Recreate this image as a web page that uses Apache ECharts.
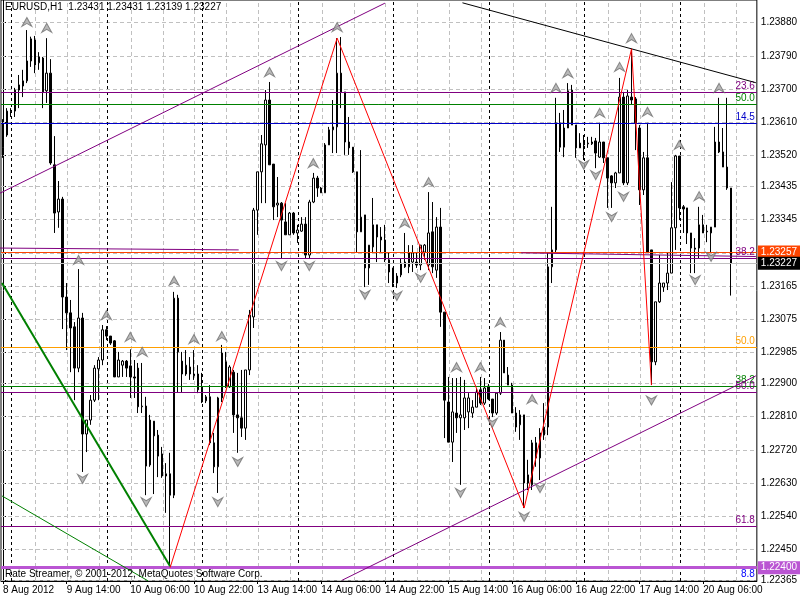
<!DOCTYPE html>
<html><head><meta charset="utf-8">
<script src="https://cdn.jsdelivr.net/npm/echarts@6/dist/echarts.min.js"></script>
<style>html,body{margin:0;padding:0;background:#fff}#c{width:800px;height:600px}</style>
</head><body><div id="c"></div>
<script>
// ---------- DATA ----------
const titleText = 'EURUSD,H1  1.23431 1.23431 1.23139 1.23227';
const footerText = 'Rate Streamer, \u00A9 2001-2012, MetaQuotes Software Corp.';
const xLabels = ['8 Aug 2012','9 Aug 14:00','10 Aug 06:00','10 Aug 22:00','13 Aug 14:00','14 Aug 06:00','14 Aug 22:00','15 Aug 14:00','16 Aug 06:00','16 Aug 22:00','17 Aug 14:00','20 Aug 06:00'];
const yLabelValues = [1.23880,1.23790,1.23700,1.23610,1.23520,1.23435,1.23345,1.23165,1.23075,1.22985,1.22900,1.22810,1.22720,1.22630,1.22540,1.22450,1.22365];
const yTickValues = [1.23880,1.23790,1.23700,1.23610,1.23520,1.23435,1.23345,1.23255,1.23165,1.23075,1.22985,1.22900,1.22810,1.22720,1.22630,1.22540,1.22450,1.22365];
const opens = [1.23542,1.23575,1.23638,1.23640,1.23697,1.23708,1.23722,1.23776,1.23833,1.23771,1.23784,1.23695,1.23743,1.23494,1.23366,1.23401,1.23135,1.23092,1.23054,1.22942,
1.23078,1.22763,1.22801,1.22855,1.22940,1.22964,1.23046,1.23029,1.23016,1.22918,1.22950,1.22961,1.22948,1.22918,1.22942,1.22837,1.22839,1.22679,1.22798,1.22760,
1.22709,1.22649,1.22655,1.22597,1.23132,1.22961,1.22926,1.22945,1.22921,1.22926,1.22891,1.22853,1.22864,1.22739,1.22674,1.22861,1.22959,1.22891,1.22931,1.22815,
1.22807,1.22779,1.22937,1.23081,1.23371,1.23475,1.23548,1.23670,1.23496,1.23385,1.23390,1.23339,1.23304,1.23363,1.23309,1.23314,1.23333,1.23249,1.23393,1.23458,
1.23431,1.23418,1.23548,1.23589,1.23597,1.23743,1.23692,1.23556,1.23542,1.23475,1.23312,1.23358,1.23214,1.23271,1.23331,1.23298,1.23290,1.23236,1.23214,1.23173,
1.23195,1.23230,1.23217,1.23230,1.23230,1.23222,1.23257,1.23222,1.23312,1.23208,1.23325,1.23094,1.22850,1.22741,1.22820,1.22807,1.22807,1.22823,1.22820,1.22836,
1.22883,1.22847,1.22893,1.22858,1.22820,1.22874,1.23018,1.22923,1.22896,1.22820,1.22788,1.22815,1.22630,1.22625,1.22739,1.22698,1.22760,1.22782,1.23217,1.23263,
1.23608,1.23542,1.23594,1.23697,1.23602,1.23553,1.23553,1.23551,1.23551,1.23559,1.23515,1.23556,1.23513,1.23464,1.23445,1.23472,1.23678,1.23445,1.23678,1.23673,
1.23594,1.23426,1.23513,1.23263,1.22959,1.23122,1.23162,1.23173,1.23200,1.23323,1.23518,1.23380,1.23377,1.23309,1.23268,1.23268,1.23331,1.23314,1.23309,1.23325,
1.23556,1.23529,1.23488,1.23431];
const closes = [1.23575,1.23640,1.23640,1.23697,1.23711,1.23722,1.23776,1.23836,1.23765,1.23787,1.23692,1.23743,1.23499,1.23363,1.23401,1.23135,1.23092,1.23051,1.22942,1.23078,
1.22763,1.22801,1.22855,1.22942,1.22964,1.23046,1.23029,1.23010,1.22918,1.22964,1.22961,1.22942,1.22918,1.22915,1.22837,1.22839,1.22676,1.22801,1.22758,1.22703,
1.22649,1.22655,1.22597,1.23132,1.22986,1.22926,1.22950,1.22926,1.22926,1.22883,1.22850,1.22864,1.22739,1.22674,1.22861,1.22983,1.22891,1.22945,1.22815,1.22807,
1.22779,1.22937,1.23086,1.23371,1.23475,1.23551,1.23670,1.23494,1.23380,1.23390,1.23344,1.23304,1.23363,1.23309,1.23317,1.23333,1.23249,1.23393,1.23458,1.23431,
1.23418,1.23548,1.23589,1.23597,1.23743,1.23692,1.23556,1.23540,1.23475,1.23312,1.23352,1.23214,1.23276,1.23331,1.23298,1.23290,1.23236,1.23203,1.23173,1.23192,
1.23227,1.23217,1.23255,1.23255,1.23222,1.23276,1.23276,1.23309,1.23217,1.23325,1.23094,1.22855,1.22741,1.22823,1.22807,1.22815,1.22861,1.22861,1.22836,1.22877,
1.22847,1.22888,1.22858,1.22820,1.22874,1.23018,1.22929,1.22896,1.22820,1.22782,1.22815,1.22630,1.22652,1.22739,1.22698,1.22766,1.22782,1.23217,1.23263,1.23608,
1.23542,1.23594,1.23695,1.23602,1.23540,1.23540,1.23548,1.23553,1.23556,1.23526,1.23556,1.23513,1.23458,1.23445,1.23472,1.23678,1.23445,1.23681,1.23670,1.23608,
1.23426,1.23513,1.23257,1.22959,1.23122,1.23173,1.23173,1.23200,1.23323,1.23518,1.23377,1.23374,1.23309,1.23268,1.23265,1.23331,1.23309,1.23312,1.23325,1.23556,
1.23529,1.23488,1.23431,1.23227];
const lows = [1.23513,1.23570,1.23624,1.23624,1.23648,1.23678,1.23716,1.23760,1.23743,1.23752,1.23648,1.23662,1.23494,1.23309,1.23323,1.23048,1.22991,1.22931,1.22855,1.22931,
1.22660,1.22714,1.22788,1.22850,1.22855,1.22950,1.23018,1.23005,1.22918,1.22918,1.22918,1.22918,1.22861,1.22861,1.22820,1.22820,1.22597,1.22674,1.22600,1.22646,
1.22644,1.22549,1.22400,1.22589,1.22877,1.22877,1.22921,1.22910,1.22910,1.22874,1.22847,1.22847,1.22733,1.22657,1.22603,1.22850,1.22888,1.22888,1.22766,1.22712,
1.22755,1.22747,1.22923,1.23051,1.23304,1.23390,1.23390,1.23494,1.23344,1.23352,1.23241,1.23304,1.23304,1.23304,1.23282,1.23312,1.23241,1.23241,1.23390,1.23407,
1.23418,1.23418,1.23548,1.23526,1.23526,1.23648,1.23521,1.23521,1.23472,1.23257,1.23312,1.23162,1.23168,1.23255,1.23230,1.23257,1.23230,1.23173,1.23162,1.23160,
1.23189,1.23214,1.23200,1.23203,1.23214,1.23208,1.23236,1.23208,1.23200,1.23187,1.23054,1.22752,1.22741,1.22687,1.22766,1.22625,1.22774,1.22779,1.22807,1.22836,
1.22842,1.22842,1.22855,1.22809,1.22815,1.22869,1.22929,1.22896,1.22820,1.22769,1.22747,1.22562,1.22611,1.22611,1.22674,1.22638,1.22747,1.22760,1.23173,1.23255,
1.23529,1.23515,1.23594,1.23602,1.23513,1.23540,1.23507,1.23540,1.23548,1.23485,1.23513,1.23499,1.23377,1.23377,1.23431,1.23472,1.23439,1.23439,1.23657,1.23534,
1.23385,1.23412,1.23255,1.22896,1.22950,1.23119,1.23149,1.23154,1.23200,1.23263,1.23344,1.23309,1.23279,1.23200,1.23200,1.23241,1.23309,1.23284,1.23255,1.23325,
1.23526,1.23488,1.23426,1.23139];
const highs = [1.23618,1.23648,1.23648,1.23703,1.23738,1.23752,1.23860,1.23842,1.23844,1.23800,1.23787,1.23838,1.23781,1.23572,1.23450,1.23407,1.23173,1.23127,1.23067,1.23211,
1.23092,1.22801,1.22869,1.22950,1.22972,1.23059,1.23056,1.23029,1.23018,1.22986,1.22964,1.22964,1.22993,1.22964,1.22956,1.22956,1.22864,1.22815,1.22798,1.22774,
1.22728,1.22684,1.22712,1.23149,1.23141,1.22986,1.22991,1.22972,1.22991,1.22950,1.22929,1.22869,1.22896,1.22766,1.22864,1.23005,1.22986,1.22950,1.22937,1.22929,
1.22937,1.22937,1.23100,1.23377,1.23475,1.23575,1.23697,1.23719,1.23496,1.23461,1.23393,1.23390,1.23366,1.23366,1.23331,1.23352,1.23352,1.23399,1.23472,1.23464,
1.23434,1.23553,1.23597,1.23670,1.23838,1.23841,1.23692,1.23624,1.23542,1.23475,1.23534,1.23358,1.23276,1.23404,1.23331,1.23325,1.23331,1.23257,1.23214,1.23200,
1.23241,1.23309,1.23276,1.23276,1.23255,1.23276,1.23279,1.23420,1.23393,1.23352,1.23377,1.23094,1.22918,1.22915,1.22915,1.22918,1.22910,1.22874,1.22855,1.22888,
1.22918,1.22915,1.22899,1.22858,1.22877,1.23040,1.23018,1.22945,1.22902,1.22836,1.22828,1.22815,1.22693,1.22747,1.22755,1.22779,1.22847,1.23255,1.23380,1.23676,
1.23635,1.23643,1.23716,1.23711,1.23602,1.23580,1.23575,1.23570,1.23570,1.23567,1.23608,1.23556,1.23513,1.23466,1.23475,1.23730,1.23692,1.23697,1.23809,1.23678,
1.23602,1.23529,1.23608,1.23263,1.23122,1.23249,1.23173,1.23255,1.23447,1.23521,1.23518,1.23385,1.23377,1.23309,1.23295,1.23380,1.23358,1.23331,1.23325,1.23597,
1.23676,1.23594,1.23676,1.23431];
// fractal arrows: [bar index, price]
const upArrows = [[6,1.23882],[11,1.23866],[19,1.23236],[26,1.23086],[32,1.23027],[35,1.22986],[43,1.23179],[48,1.23021],[55,1.23029],[67,1.23746],[78,1.23499],[84,1.23868],
[101,1.23336],[107,1.23447],[114,1.22945],[120,1.22945],[125,1.23067],[133,1.22858],[139,1.23703],[142,1.23743],[150,1.23635],[155,1.23760],[158,1.23838],[162,1.23638],
[170,1.23548],[175,1.23409],[180,1.23703]];
const downArrows = [[20,1.22641],[36,1.22578],[54,1.22578],[59,1.22687],[70,1.23219],[77,1.23219],[91,1.23141],[99,1.23138],[105,1.23187],[115,1.22603],[123,1.22793],
[131,1.22538],[135,1.22616],[146,1.23494],[149,1.23466],[153,1.23352],[156,1.23407],[163,1.22854],[174,1.23181],[178,1.23244]];
// horizontal levels
const levelPrices = [1.23692,1.23658,1.23607,1.23240,1.22999,1.22893,1.22876,1.22512,1.22366];
const levelTexts = ['23.6','50.0','14.5','38.2','50.0','38.2','50.0','61.8','8.8'];
const priceLines = [1.23257,1.23227,1.22400];
const daySeparators = [2,26,50,74,98,122,146,170];
// drawn objects: [bar index, price]
const zigzag = [[42,1.22400],[84,1.23838],[131,1.22562],[158,1.23809],[163,1.22896]];
const channelUpper = [[-0.75,1.23417],[96,1.23933]];
const channelLower = [[85.25,1.22366],[189.25,1.22921]];
const blackTrend = [[115.5,1.23934],[189.25,1.23717]];
const greenThick = [[-0.25,1.23173],[42,1.22404]];
const greenThin = [[-0.25,1.22595],[36.5,1.22364]];
const purpleSegA = [[-0.75,1.23268],[59.25,1.23263]];
const purpleSegB = [[130.25,1.23255],[189.25,1.23245]];

// ---------- STYLE / BUILD ----------
const FONT = '"Liberation Sans",Arial,sans-serif';
const FS = 10;
const NBARS = 190;
const categories = Array.from({length: NBARS}, (_, i) => (i % 16 === 0 && xLabels[i / 16]) ? xLabels[i / 16] : '');
const candles = opens.map((o, i) => [o, closes[i], lows[i], highs[i]]);
const levelColors = ['#800080','#008000','#0000c8','#800080','#ff9f00','#008000','#800080','#800080','#0000ff'];
const levelLineColors = ['#800080','#008000','#0000c8','#800080','#ff9f00','#008000','#800080','#800080','rgba(0,0,255,0)'];
const priceLineColors = ['#ff4500','#c0c0c0','#ba55d3'];
const priceBoxColors = ['#ff4500','#000000','#ba55d3'];
const priceLineWidths = [1,1,3];
const gridIdx = [];
for (let k = 1; k * 8 < NBARS; k++) gridIdx.push(k * 8 + 0.2);

const chart = echarts.init(document.getElementById('c'), null, {renderer: 'canvas'});

const hLines = levelPrices.map((p, k) => ({
  yAxis: p,
  lineStyle: {color: levelLineColors[k], width: 1, type: 'solid'},
  label: {show: true, position: 'insideEndTop', formatter: levelTexts[k], color: levelColors[k],
    fontFamily: FONT, fontSize: FS, distance: [2, 1]}
})).concat(priceLines.map((p, k) => ({
  yAxis: p,
  lineStyle: {color: priceLineColors[k], width: priceLineWidths[k], type: 'solid'},
  label: {show: true, position: 'end', formatter: p.toFixed(5), color: '#fff', backgroundColor: priceBoxColors[k],
    padding: [2, 4, 1, 3], distance: 1, fontFamily: FONT, fontSize: FS}
})));

function seg(data, color, width, z) {
  return {type: 'line', xAxisIndex: 1, yAxisIndex: 0, data: data, symbol: 'none', silent: true,
    lineStyle: {color: color, width: width}, z: z || 6, clip: true, animation: false};
}

const gridLines = gridIdx.map(v => ({xAxis: v}))
  .concat(yTickValues.map(v => ({yAxis: v})))
  .concat(daySeparators.map(v => ({xAxis: v + 0.2, lineStyle: {color: '#000', type: [3, 3], width: 1}})));

const option = {
  animation: false,
  backgroundColor: '#fff',
  textStyle: {fontFamily: FONT},
  grid: {left: 1, right: 39, top: 0, bottom: 19, show: true, borderColor: '#000', borderWidth: 1, backgroundColor: '#fff'},
  xAxis: [{
    type: 'category', data: categories, boundaryGap: true,
    axisLine: {show: true, lineStyle: {color: '#000'}},
    axisTick: {show: true, interval: 15, alignWithLabel: true, length: 3, lineStyle: {color: '#000'}},
    axisLabel: {interval: 15, align: 'left', margin: 4, color: '#000', fontFamily: FONT, fontSize: FS},
    splitLine: {show: false}
  }, {
    type: 'value', min: -0.5, max: NBARS - 0.5, show: false, splitLine: {show: false}
  }],
  yAxis: [{
    type: 'value', position: 'right', min: 1.223639, max: 1.239416,
    axisLine: {show: true, lineStyle: {color: '#000'}},
    axisTick: {show: true, length: 3, customValues: yTickValues, lineStyle: {color: '#000'}},
    axisLabel: {customValues: yLabelValues, formatter: v => v.toFixed(5), margin: 4, color: '#000', fontFamily: FONT, fontSize: FS},
    splitLine: {show: false}
  }],
  series: [
    {
      type: 'line', xAxisIndex: 1, yAxisIndex: 0, data: [], silent: true, z: 1,
      markLine: {silent: true, z: 1, precision: 6, symbol: ['none', 'none'], animation: false, label: {show: false},
        data: gridLines, lineStyle: {color: '#c0c0c0', type: [4, 3], width: 1}}
    },
    {
      type: 'candlestick', xAxisIndex: 0, yAxisIndex: 0, data: candles, barWidth: 2, z: 3, silent: true,
      itemStyle: {color: '#fff', color0: '#000', borderColor: '#000', borderColor0: '#000', borderWidth: 1}
    },
    {
      type: 'line', xAxisIndex: 1, yAxisIndex: 0, data: [], silent: true, z: 4,
      markLine: {silent: true, z: 4, precision: 6, symbol: ['none', 'none'], animation: false, data: hLines}
    },
    seg(purpleSegA, '#800080', 1, 4),
    seg(purpleSegB, '#800080', 1, 4),
    seg(channelUpper, '#800080', 1),
    seg(channelLower, '#800080', 1),
    seg(blackTrend, '#000000', 1),
    seg(greenThick, '#008000', 2),
    seg(greenThin, '#008000', 1),
    seg(zigzag, '#ff0000', 1, 7),
    {type: 'scatter', xAxisIndex: 1, yAxisIndex: 0, data: upArrows, silent: true, z: 8,
      symbol: 'path://M5,0 L10,9 L5,6 L0,9 Z', symbolSize: [10, 9],
      itemStyle: {color: '#a8a8a8', borderColor: '#707070', borderWidth: 1}},
    {type: 'scatter', xAxisIndex: 1, yAxisIndex: 0, data: downArrows, silent: true, z: 8,
      symbol: 'path://M5,9 L10,0 L5,3 L0,0 Z', symbolSize: [10, 9],
      itemStyle: {color: '#a8a8a8', borderColor: '#707070', borderWidth: 1}}
  ],
  graphic: [
    {type: 'text', left: 5, top: 2, z: 100, style: {text: titleText, fill: '#000', font: FS + 'px ' + FONT}},
    {type: 'text', left: 5, top: 569, z: 100, style: {text: footerText, fill: '#000', font: FS + 'px ' + FONT}}
  ]
};
chart.setOption(option);
</script>
</body></html>
